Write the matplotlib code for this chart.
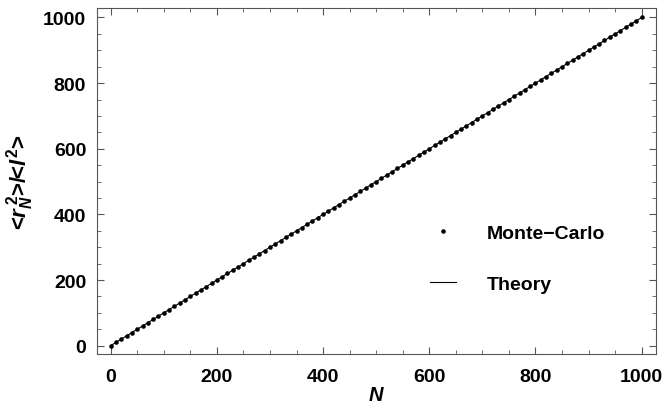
import matplotlib
matplotlib.use("Agg")
import matplotlib.pyplot as plt
from matplotlib.ticker import MultipleLocator

plt.rcParams['font.family'] = ['Liberation Sans', 'DejaVu Sans']
plt.rcParams['font.weight'] = 'bold'
plt.rcParams['mathtext.fontset'] = 'custom'
plt.rcParams['mathtext.rm'] = 'Liberation Sans:bold'
plt.rcParams['mathtext.it'] = 'Liberation Sans:italic:bold'
plt.rcParams['mathtext.bf'] = 'Liberation Sans:bold'

# Monte-Carlo data: N and mean square end-to-end distance
mc_N = [0, 10, 20, 30, 40, 50, 60, 70, 80, 90,
        100, 110, 120, 130, 140, 150, 160, 170, 180, 190,
        200, 210, 220, 230, 240, 250, 260, 270, 280, 290,
        300, 310, 320, 330, 340, 350, 360, 370, 380, 390,
        400, 410, 420, 430, 440, 450, 460, 470, 480, 490,
        500, 510, 520, 530, 540, 550, 560, 570, 580, 590,
        600, 610, 620, 630, 640, 650, 660, 670, 680, 690,
        700, 710, 720, 730, 740, 750, 760, 770, 780, 790,
        800, 810, 820, 830, 840, 850, 860, 870, 880, 890,
        900, 910, 920, 930, 940, 950, 960, 970, 980, 990, 1000]
mc_r2 = [0, 10, 20, 30, 40, 50, 60, 70, 80, 90,
         100, 110, 120, 130, 140, 150, 160, 170, 180, 190,
         200, 210, 220, 230, 240, 250, 260, 270, 280, 290,
         300, 310, 320, 330, 340, 350, 360, 370, 380, 390,
         400, 410, 420, 430, 440, 450, 460, 470, 480, 490,
         500, 510, 520, 530, 540, 550, 560, 570, 580, 590,
         600, 610, 620, 630, 640, 650, 660, 670, 680, 690,
         700, 710, 720, 730, 740, 750, 760, 770, 780, 790,
         800, 810, 820, 830, 840, 850, 860, 870, 880, 890,
         900, 910, 920, 930, 940, 950, 960, 970, 980, 990, 1000]
# Theory line endpoints
theory_N = [0, 1000]
theory_r2 = [0, 1000]

xticks = [0, 200, 400, 600, 800, 1000]
yticks = [0, 200, 400, 600, 800, 1000]

fig = plt.figure(figsize=(6.65, 4.10), dpi=100)
L, R, T, B = 97.3, 656.0, 9.3, 355.0
ax = fig.add_axes([L/665, 1-B/410, (R-L)/665, (B-T)/410])

ax.plot(theory_N, theory_r2, color='black', lw=0.8, label='Theory', zorder=2)
ax.plot(mc_N, mc_r2, 'o', color='black', ms=3.3, mec='none', label='Monte\u2212Carlo', zorder=3)

ax.set_xlim(-25.2, 1027)
ax.set_ylim(-25.3, 1028)
ax.set_xticks(xticks)
ax.set_yticks(yticks)
ax.xaxis.set_minor_locator(MultipleLocator(50))
ax.yaxis.set_minor_locator(MultipleLocator(50))
ax.tick_params(which='both', direction='in', top=True, right=True, color='#555555', labelsize=14)
ax.tick_params(which='major', length=5, width=0.8)
ax.tick_params(which='minor', length=3, width=0.6)
for lab in ax.get_xticklabels() + ax.get_yticklabels():
    lab.set_fontweight('bold')
ax.tick_params(axis='x', pad=10)
ax.tick_params(axis='y', pad=8)
for s in ax.spines.values():
    s.set_color('#555555')
    s.set_linewidth(0.8)

ax.set_xlabel('$N$', fontsize=14.5, labelpad=0)
ax.set_ylabel('<$r_N^{\\,2}$>/<$l^{2}$>', fontsize=16, fontweight='bold', labelpad=5)

handles, labels = ax.get_legend_handles_labels()
leg = fig.legend(handles[::-1], labels[::-1], loc='upper left',
                 bbox_to_anchor=(430/665, 1-225/410), frameon=False,
                 borderpad=0, borderaxespad=0, handlelength=1.34,
                 handletextpad=1.6, labelspacing=1.72,
                 prop={'weight': 'bold', 'size': 14})

fig.savefig('out.png', dpi=100)
